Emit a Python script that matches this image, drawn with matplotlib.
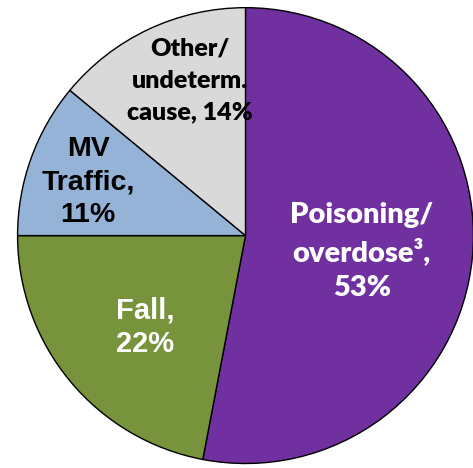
import matplotlib.pyplot as plt

labels = ['Poisoning/\noverdose³,\n53%', 'Fall,\n22%', 'MV\nTraffic,\n11%', 'Other/\nundeterm.\ncause, 14%']
values = [53, 22, 11, 14]
colors = ['#7030A0', '#77933C', '#95B3D7', '#D9D9D9']

fig = plt.figure(figsize=(4.73, 4.68), dpi=100)
ax = fig.add_axes([0.037, 0.0096, 0.964, 0.974])

wedges, _ = ax.pie(values, colors=colors, startangle=90, counterclock=False,
                   wedgeprops={'edgecolor': 'black', 'linewidth': 1.0})
ax.set_xlim(-1, 1)
ax.set_ylim(-1, 1)
ax.set_aspect('equal')

# label positions in data coords (pie radius = 1)
pos = [(0.51, -0.07), (-0.44, -0.40), (-0.69, 0.235), (-0.243, 0.68)]
txtcol = ['white', 'white', 'black', 'black']
fams = ['Lato', 'Liberation Sans', 'Liberation Sans', 'Lato']
sizes = [21, 21, 20.5, 18]
spacing = [1.45, 1.25, 1.35, 1.55]
for lab, (x, y), c, f, s, ls in zip(labels, pos, txtcol, fams, sizes, spacing):
    ax.text(x, y, lab, ha='center', va='center', color=c, family=f,
            fontsize=s, fontweight='heavy', linespacing=ls)

fig.savefig('out.png', dpi=100)
